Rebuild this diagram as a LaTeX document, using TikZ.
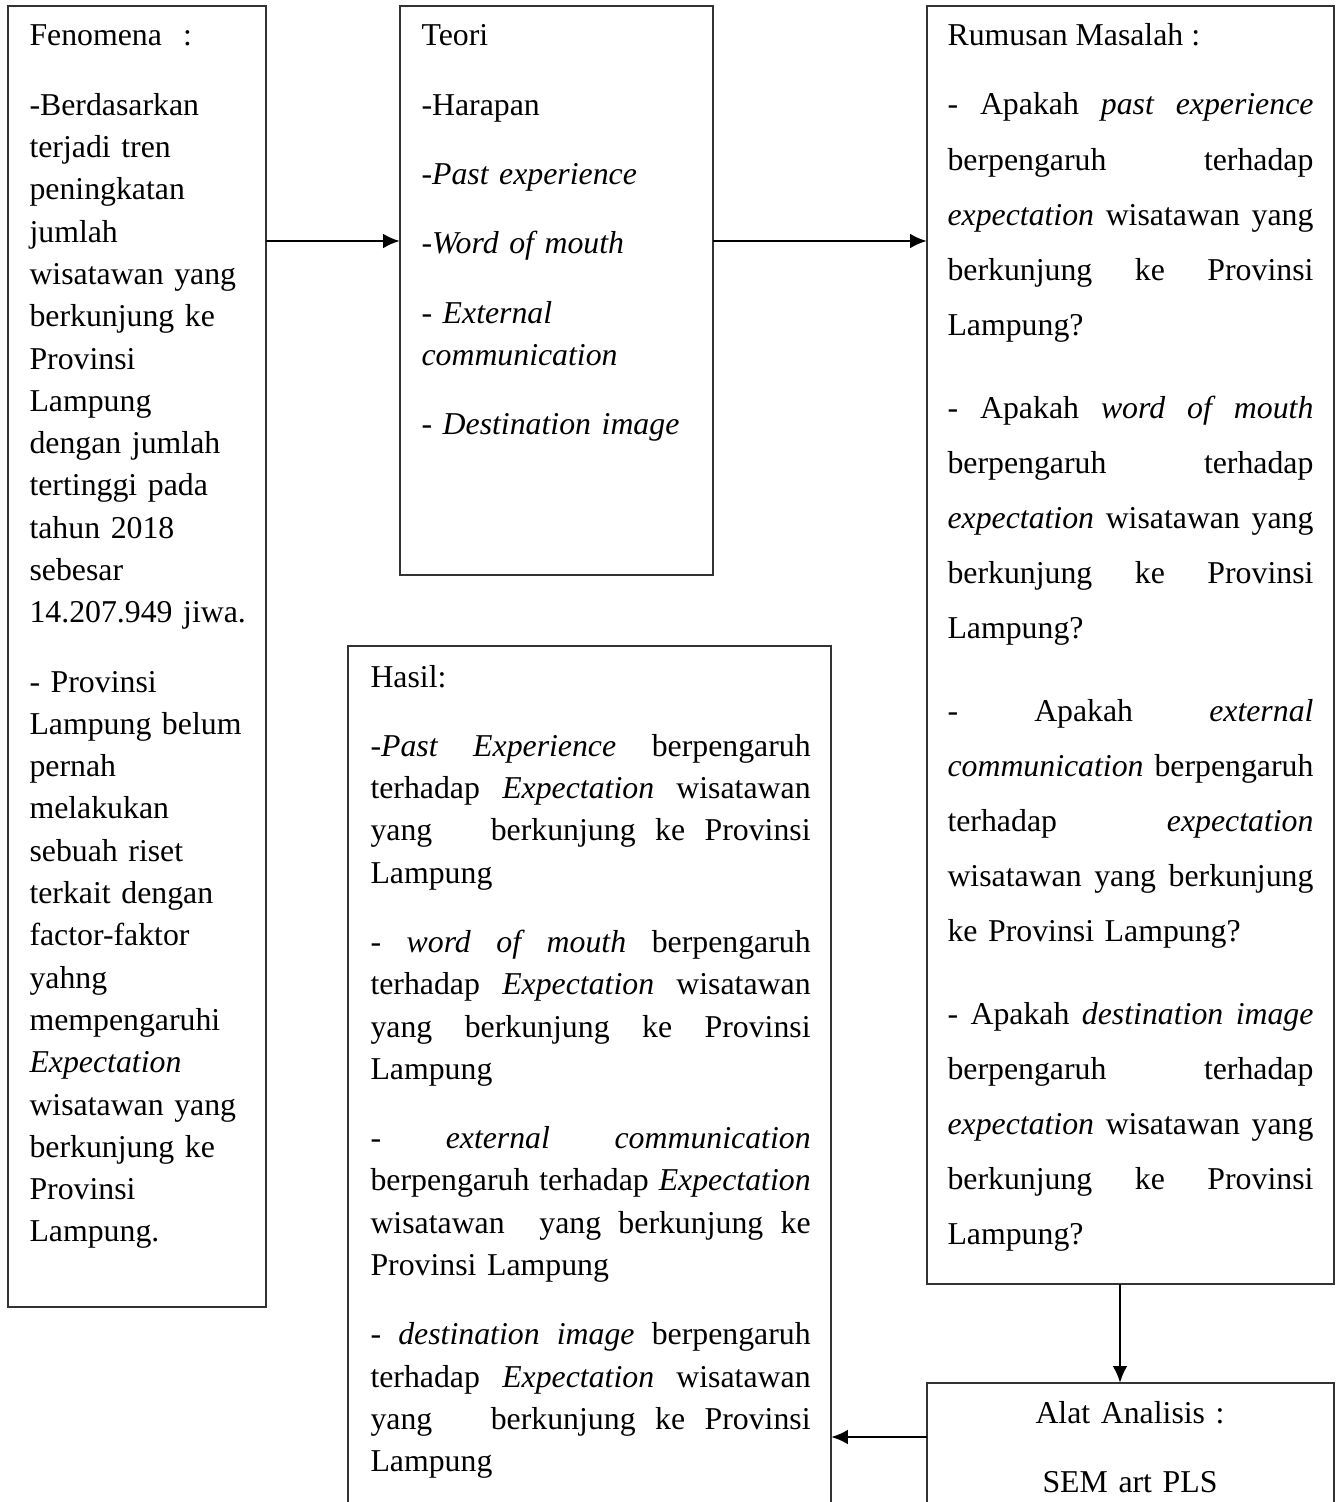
\documentclass[tikz,border=0pt]{standalone}
\usepackage{fontspec}
\setmainfont{Liberation Serif}
\usetikzlibrary{arrows.meta,fit}

\newcommand{\jl}[1]{\makebox[\linewidth][s]{\spaceskip=0pt\xspaceskip=0pt #1}}

\tikzset{
	box/.style={draw=black!80, line width=0.7pt, inner sep=0pt, outer sep=0pt},
	txt/.style={anchor=base west, inner sep=0pt, align=left,
		font=\fontsize{12pt}{15.96pt}\selectfont,
		execute at begin node={\setlength{\parskip}{10.2pt}}},
	arr/.style={-{Latex[length=6.4pt,width=5.6pt]}, line width=1pt},
}

\begin{document}
\begin{tikzpicture}[x=0.3774pt, y=-0.3774pt]

	\useasboundingbox (0,0) rectangle (1339,1502);
	\clip (0,0) rectangle (1339,1502);

	\node [box, fit={(8,6) (266,1307)}] (fen) {};
	\node [box, fit={(400,6) (713,575)}] (teo) {};
	\node [box, fit={(927,6) (1334,1284)}] (rum) {};
	\node [box, fit={(348,646) (831,1540)}] (has) {};
	\node [box, fit={(927,1383) (1334,1540)}] (alat) {};

	\node [txt, text width=88pt] (fentx) at (29,46) {Fenomena \ :\par
		-Berdasarkan\\ terjadi tren\\ peningkatan\\ jumlah\\ wisatawan yang\\ berkunjung ke\\
		Provinsi\\ Lampung\\ dengan jumlah\\ tertinggi pada\\ tahun 2018\\ sebesar\\
		14.207.949 jiwa.\par
		- Provinsi\\ Lampung belum\\ pernah\\ melakukan\\ sebuah riset\\ terkait dengan\\
		factor-faktor\\ yahng\\ mempengaruhi\\ \textit{Expectation}\\ wisatawan yang\\
		berkunjung ke\\ Provinsi\\ Lampung.};

	\node [txt, text width=105pt] (teotx) at (421,46) {Teori\par
		-Harapan\par
		\textit{-Past experience}\par
		\textit{-Word of mouth}\par
		\textit{- External\\ communication}\par
		\textit{- Destination image}};

	\node [txt] (rumtitle) at (947,46) {Rumusan Masalah :};
	\node [txt, text width=138.1pt, font=\fontsize{12pt}{20.76pt}\selectfont,
		execute at begin node={\setlength{\parskip}{10.6pt}}] (rumtx) at (947,115) {%
		\jl{- Apakah \textit{past experience}}\\
		\jl{berpengaruh terhadap}\\
		\jl{\textit{expectation} wisatawan yang}\\
		\jl{berkunjung ke Provinsi}\\
		Lampung?\par
		\jl{- Apakah \textit{word of mouth}}\\
		\jl{berpengaruh terhadap}\\
		\jl{\textit{expectation} wisatawan yang}\\
		\jl{berkunjung ke Provinsi}\\
		Lampung?\par
		\jl{- Apakah \textit{external}}\\
		\jl{\textit{communication} berpengaruh}\\
		\jl{terhadap \textit{expectation}}\\
		\jl{wisatawan yang berkunjung}\\
		ke Provinsi Lampung?\par
		\jl{- Apakah \textit{destination image}}\\
		\jl{berpengaruh terhadap}\\
		\jl{\textit{expectation} wisatawan yang}\\
		\jl{berkunjung ke Provinsi}\\
		Lampung?};

	\node [txt, text width=166.1pt] (hastx) at (370,687) {Hasil:\par
		\jl{\textit{-Past Experience} berpengaruh}\\
		\jl{terhadap \textit{Expectation} wisatawan}\\
		\jl{yang \ \ berkunjung ke Provinsi}\\
		Lampung\par
		\jl{- \textit{word of mouth} berpengaruh}\\
		\jl{terhadap \textit{Expectation} wisatawan}\\
		\jl{yang berkunjung ke Provinsi}\\
		Lampung\par
		\jl{- \textit{external communication}}\\
		\jl{berpengaruh terhadap \textit{Expectation}}\\
		\jl{wisatawan \ yang berkunjung ke}\\
		Provinsi Lampung\par
		\jl{- \textit{destination image} berpengaruh}\\
		\jl{terhadap \textit{Expectation} wisatawan}\\
		\jl{yang \ \ berkunjung ke Provinsi}\\
		Lampung};

	\node [anchor=base, inner sep=0pt, align=center, text width=140pt,
		font=\fontsize{12pt}{26.04pt}\selectfont] (alattx) at (1130,1423) {Alat Analisis :\\ SEM art PLS};

	\coordinate (row) at (0,241);
	\coordinate (col) at (1120,0);
	\coordinate (low) at (0,1437);

	\draw [arr] (fen.east |- row) -- (teo.west |- row);
	\draw [arr] (teo.east |- row) -- (rum.west |- row);
	\draw [arr] (rum.south -| col) -- (alat.north -| col);
	\draw [arr] (alat.west |- low) -- (has.east |- low);

\end{tikzpicture}
\end{document}
